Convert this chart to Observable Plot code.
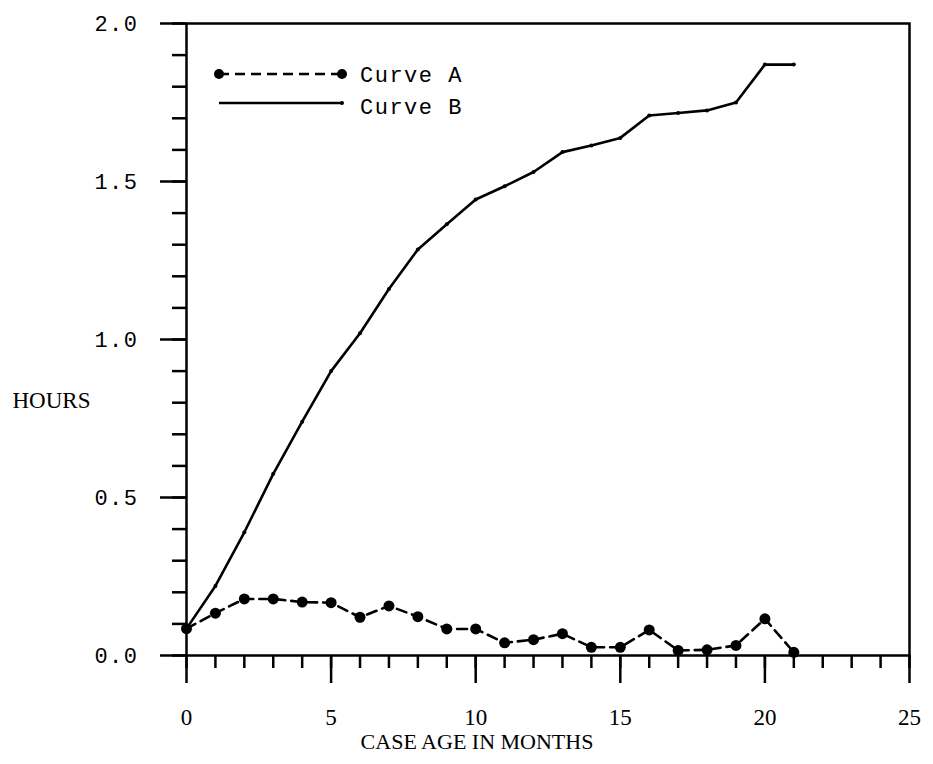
<!DOCTYPE html>
<html>
<head>
<meta charset="utf-8">
<script src="https://cdn.jsdelivr.net/npm/d3@7"></script>
<script src="https://cdn.jsdelivr.net/npm/@observablehq/plot@0.6"></script>
<style>
  html, body { margin: 0; padding: 0; background: #fff; }
  #chart svg { display: block; background: #fff; }
  g[aria-label="y-axis tick label"] text { font-family: "Liberation Mono", monospace; font-size: 22px; letter-spacing: 1.5px; }
  g[aria-label="x-axis tick label"] text { font-family: "Liberation Serif", serif; font-size: 23px; }
</style>
</head>
<body>
<div id="chart"></div>
<script>
const months = [0,1,2,3,4,5,6,7,8,9,10,11,12,13,14,15,16,17,18,19,20,21];
const curveA = [0.085,0.134,0.179,0.179,0.169,0.167,0.121,0.157,0.123,0.084,0.084,0.040,0.050,0.069,0.026,0.026,0.081,0.016,0.018,0.032,0.116,0.010];
const curveB = [0.085,0.22,0.39,0.575,0.74,0.90,1.02,1.16,1.285,1.365,1.443,1.485,1.53,1.593,1.614,1.638,1.709,1.717,1.725,1.75,1.87,1.87];
const seriesNames = ["Curve A", "Curve B"];
const xMajorTicks = [0,5,10,15,20,25];
const xMinorTicks = [0,1,2,3,4,5,6,7,8,9,10,11,12,13,14,15,16,17,18,19,20,21,22,23,24,25];
const yMajorTicks = [0,0.5,1.0,1.5,2.0];
const yMinorTicks = [0,0.1,0.2,0.3,0.4,0.5,0.6,0.7,0.8,0.9,1.0,1.1,1.2,1.3,1.4,1.5,1.6,1.7,1.8,1.9,2.0];
const xLabel = "CASE AGE IN MONTHS";
const yLabel = "HOURS";

const dataA = months.map((m, i) => ({month: m, hours: curveA[i]}));
const dataB = months.map((m, i) => ({month: m, hours: curveB[i]}));

const chart = Plot.plot({
  width: 933,
  height: 764,
  marginTop: 23,
  marginBottom: 109,
  marginLeft: 186,
  marginRight: 24,
  style: {fontFamily: "Liberation Mono, monospace", background: "#fff", color: "#000"},
  x: {domain: [0, 25], label: null},
  y: {domain: [0, 2], label: null},
  marks: [
    Plot.axisX(xMinorTicks, {tickSize: 13, tickFormat: () => "", strokeWidth: 2.5, stroke: "#000", label: null}),
    Plot.axisX(xMajorTicks, {tickSize: 28, tickPadding: 25, tickFormat: d3.format("d"), strokeWidth: 2.5, stroke: "#000", fill: "#000", label: null}),
    Plot.axisY(yMinorTicks, {tickSize: 14, tickFormat: () => "", strokeWidth: 2.5, stroke: "#000", label: null}),
    Plot.axisY(yMajorTicks, {tickSize: 26, tickPadding: 22, tickFormat: d3.format(".1f"), strokeWidth: 2.5, stroke: "#000", fill: "#000", label: null}),
    Plot.frame({stroke: "#000", strokeWidth: 2.5}),
    Plot.line(dataB, {x: "month", y: "hours", stroke: "#000", strokeWidth: 2.6, strokeLinejoin: "round"}),
    Plot.dot(dataB, {x: "month", y: "hours", r: 2, fill: "#000"}),
    Plot.line(dataA, {x: "month", y: "hours", stroke: "#000", strokeWidth: 2.6, strokeDasharray: "10,6"}),
    Plot.dot(dataA, {x: "month", y: "hours", r: 5.5, fill: "#000"}),
    Plot.text([yLabel], {frameAnchor: "left", dx: -174, dy: 61, textAnchor: "start", fontFamily: "Liberation Serif, serif", fontSize: 23, fill: "#000"}),
    Plot.text([xLabel], {frameAnchor: "bottom", dx: -71, dy: 93, fontFamily: "Liberation Serif, serif", fontSize: 22, fill: "#000", style: "letter-spacing:1px"})
  ]
});

document.getElementById("chart").appendChild(chart);

// Legend (drawn inside plot area, top-left)
const svg = d3.select(chart);
const lg = svg.append("g").attr("aria-label", "legend").attr("text-anchor", "start");
const rowA = lg.append("g").attr("transform", "translate(219,74)");
rowA.append("line").attr("x1", 0).attr("x2", 123).attr("y1", 0).attr("y2", 0)
  .attr("stroke", "#000").attr("stroke-width", 2.6).attr("stroke-dasharray", "10,6");
rowA.append("circle").attr("cx", 0).attr("cy", 0).attr("r", 5).attr("fill", "#000");
rowA.append("circle").attr("cx", 123).attr("cy", 0).attr("r", 5).attr("fill", "#000");
rowA.append("text").attr("x", 141).attr("y", 8).attr("text-anchor", "start").text(seriesNames[0])
  .attr("font-family", "Liberation Mono, monospace").attr("font-size", 22).attr("letter-spacing", "1.5px").attr("fill", "#000");
const rowB = lg.append("g").attr("transform", "translate(219,103)");
rowB.append("line").attr("x1", 0).attr("x2", 123).attr("y1", 0).attr("y2", 0)
  .attr("stroke", "#000").attr("stroke-width", 2.6);
rowB.append("circle").attr("cx", 123).attr("cy", 0).attr("r", 2).attr("fill", "#000");
rowB.append("text").attr("x", 141).attr("y", 11).attr("text-anchor", "start").text(seriesNames[1])
  .attr("font-family", "Liberation Mono, monospace").attr("font-size", 22).attr("letter-spacing", "1.5px").attr("fill", "#000");
</script>
</body>
</html>
